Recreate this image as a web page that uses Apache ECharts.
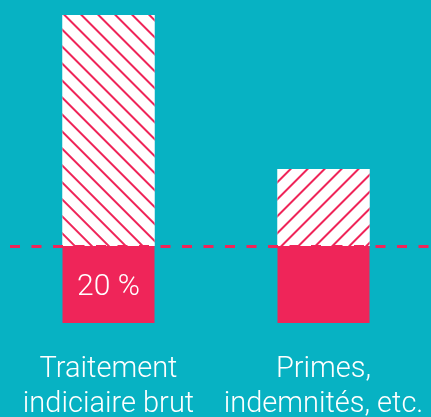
<!DOCTYPE html>
<html>
<head>
<meta charset="utf-8">
<script src="https://cdn.jsdelivr.net/npm/echarts@6/dist/echarts.min.js"></script>
<style>
html, body { margin: 0; padding: 0; background: #07b2c3; }
#chart { width: 431px; height: 417px; }
</style>
</head>
<body>
<div id="chart"></div>
<script>
// catégories et valeurs (part fixe / part variable)
var categories = ['Traitement\nindiciaire brut', 'Primes,\nindemnités, etc.']
var baseValues = [20, 20]
var extraValues = [60, 20]
var baseLabels = ['20 %', '']
var refLevel = 20

var pink = '#ef2559'

// hachures : sens différent pour chaque barre
function hatch(angle) {
  return {
    symbol: 'rect',
    symbolSize: 1,
    color: pink,
    backgroundColor: '#ffffff',
    dashArrayX: [1, 0],
    dashArrayY: [1.5, 10],
    rotation: angle
  }
}

var chart = echarts.init(document.getElementById('chart'))
chart.setOption({
  backgroundColor: '#07b2c3',
  animation: false,
  grid: {
    left: 1,
    right: 0,
    top: 15,
    bottom: 94,
    outerBoundsMode: 'none'
  },
  xAxis: {
    type: 'category',
    data: categories,
    axisLine: { show: false },
    axisTick: { show: false },
    axisLabel: {
      interval: 0,
      margin: 29,
      color: '#ffffff',
      fontFamily: 'Roboto',
      fontWeight: 300,
      fontSize: 29,
      lineHeight: 35
    }
  },
  yAxis: {
    type: 'value',
    min: 0,
    max: 80,
    show: false
  },
  series: [{
    name: 'base',
    type: 'bar',
    stack: 'total',
    barWidth: 92,
    data: baseValues,
    itemStyle: { color: pink },
    label: {
      show: true,
      position: 'inside',
      offset: [0, 3],
      color: '#ffffff',
      fontFamily: 'Roboto',
      fontWeight: 300,
      fontSize: 30,
      formatter: function(p) {
        return baseLabels[p.dataIndex]
      }
    }
  }, {
    name: 'extra',
    type: 'bar',
    stack: 'total',
    barWidth: 92,
    data: extraValues.map(function(v, i) {
      return {
        value: v,
        itemStyle: { decal: hatch(i === 0 ? Math.PI / 4 : -Math.PI / 4) }
      }
    }),
    itemStyle: { color: '#ffffff' },
    markLine: {
      silent: true,
      symbol: 'none',
      label: { show: false },
      lineStyle: {
        color: pink,
        width: 3,
        type: [10, 11.5],
        dashOffset: 12.5
      },
      data: [{ yAxis: refLevel }]
    }
  }]
})
</script>
</body>
</html>
